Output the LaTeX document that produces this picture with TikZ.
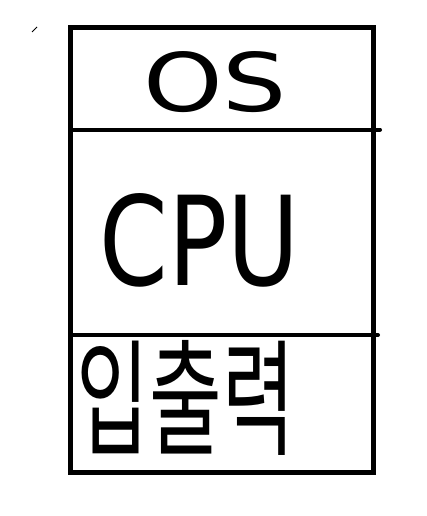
\documentclass[tikz,border=0pt]{standalone}
\usepackage{fontspec}
\usepackage{graphicx}
\setmainfont{DejaVu Sans}
\newfontfamily\kofont{Noto Sans CJK KR}
\tikzset{
  frame/.style={line width=5pt},
  divider/.style={line width=4pt, line cap=round},
  label/.style={inner sep=0pt, anchor=center}
}
\begin{document}
\begin{tikzpicture}[x=1pt,y=-1pt]
\useasboundingbox (0,0) rectangle (427,516);
\fill[white] (0,0) rectangle (427,516);
% outer box
\draw[frame] (70.5,28) rectangle (373.5,472);
% dividers
\coordinate (d1a) at (72,129.5);
\coordinate (d1b) at (380,129.5);
\coordinate (d2a) at (70,335);
\coordinate (d2b) at (378,335);
\draw[divider] (d1a) -- (d1b);
\draw[divider] (d2a) -- (d2b);
% small stray mark
\coordinate (m1) at (32,32);
\coordinate (m2) at (37,27);
\draw[line width=1pt] (m1) -- (m2);
% labels
\node[label] (os) at (215,82) {\resizebox{144pt}{60pt}{OS}};
\node[label] (cpu) at (200,240) {\resizebox{200pt}{92pt}{CPU}};
\node[label] (io) at (186,398) {\resizebox{218pt}{105pt}{\kofont 입출력}};
\end{tikzpicture}
\end{document}
